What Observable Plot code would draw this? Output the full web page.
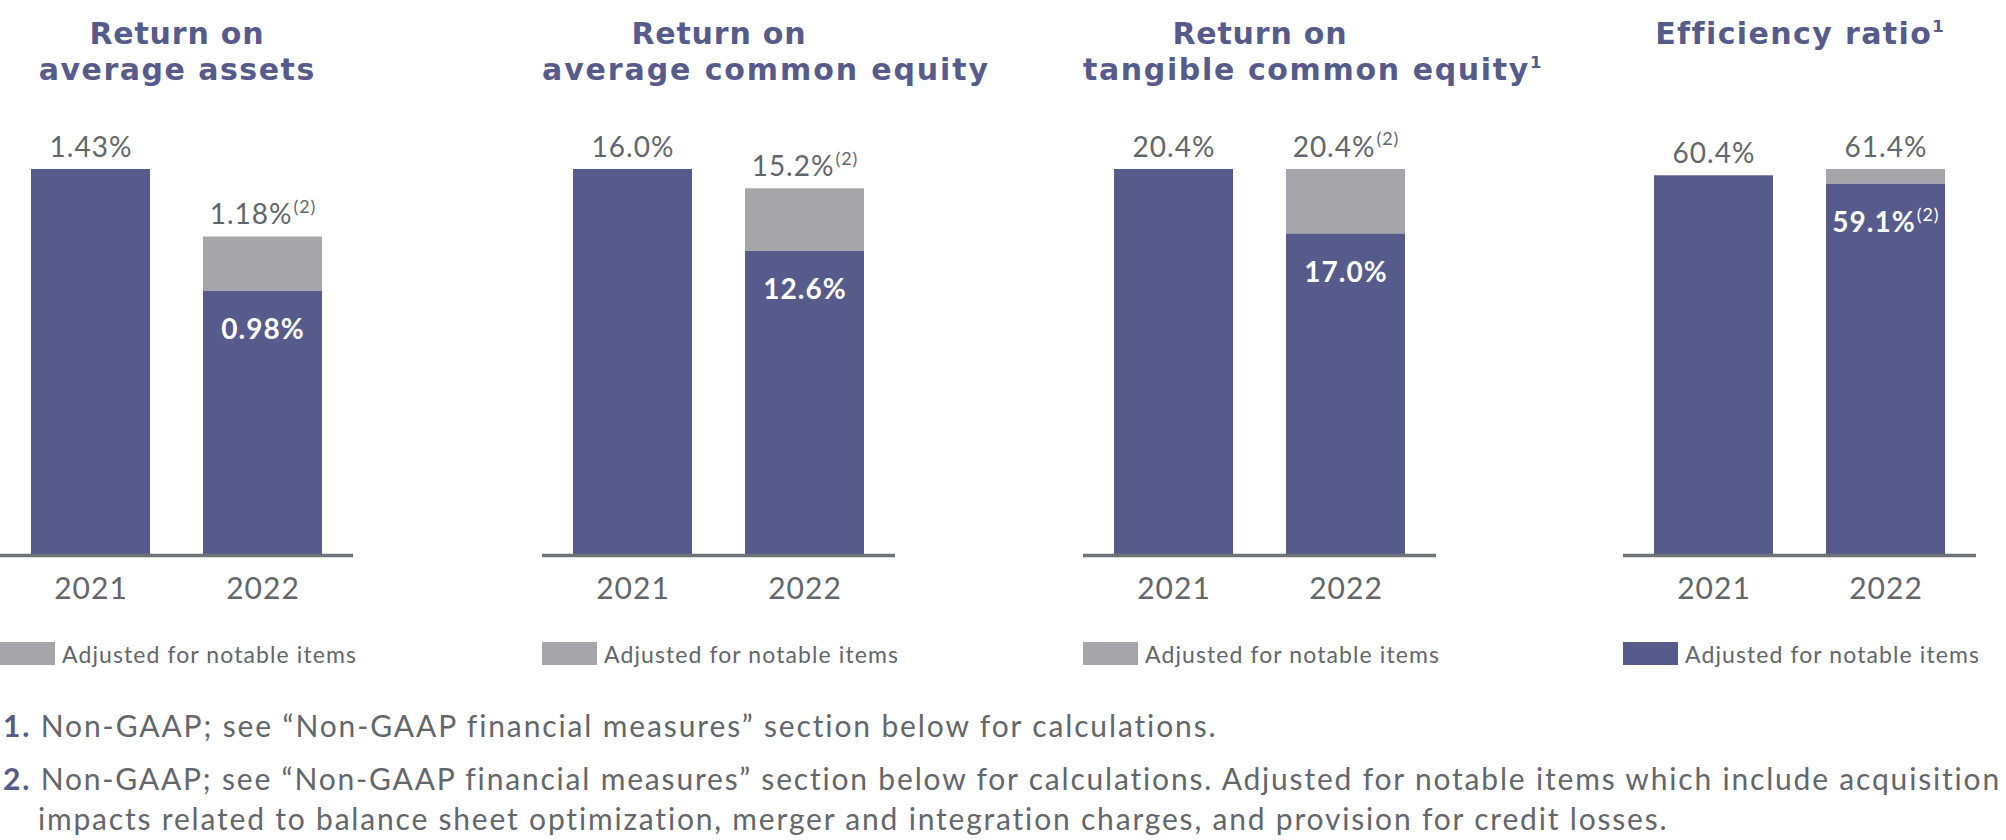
<!DOCTYPE html>
<html>
<head>
<meta charset="utf-8">
<script src="https://cdn.jsdelivr.net/npm/d3@7"></script>
<script src="https://cdn.jsdelivr.net/npm/@observablehq/plot@0.6"></script>
<style>
  html, body { margin: 0; padding: 0; background: #fff; }
  body { width: 2006px; height: 840px; overflow: hidden; font-family: Lato, "Noto Sans", sans-serif; }
  #root { position: relative; width: 2006px; height: 840px; }
  .title { position: absolute; width: 353px; text-align: center; color: #565b8b;
           font-family: "DejaVu Sans", Lato, sans-serif; font-weight: 700; font-size: 30px; line-height: 36px; white-space: nowrap; }
  .title span { display: inline-block; }
  .title sup { font-size: 0.55em; vertical-align: 0.72em; line-height: 0; }
  .chart { position: absolute; top: 110px; }
  .legend { position: absolute; top: 642px; height: 23px; display: flex; align-items: center; white-space: nowrap; }
  .legend .sw { width: 55px; height: 23px; margin-right: 7px; flex: none; }
  .legend .lt { font-size: 23px; color: #63666a; }
  .foot { position: absolute; left: 0; font-size: 30px; line-height: 30px; color: #63666a; white-space: nowrap; }
  .foot b { color: #565b8b; font-weight: 700; }
</style>
</head>
<body>
<div id="root"></div>
<script>
// ---- data ----
const panelTitles = [
  ["Return on", "average assets"],
  ["Return on", "average common equity"],
  ["Return on", "tangible common equity^1"],
  ["Efficiency ratio^1"]
];
const years = ["2021", "2022"];
const values2021 = [1.43, 16.0, 20.4, 60.4];
const values2022Lower = [0.98, 12.6, 17.0, 59.1];   // blue segment of 2022
const values2022Upper = [1.18, 15.2, 20.4, 61.4];   // top of grey segment of 2022
const labels2021 = ["1.43%", "16.0%", "20.4%", "60.4%"];
const labels2022Upper = ["1.18%^(2)", "15.2%^(2)", "20.4%^(2)", "61.4%"];
const labels2022Lower = ["0.98%", "12.6%", "17.0%", "59.1%^(2)"];
const legendLabel = "Adjusted for notable items";
const legendSeries = ["grey", "grey", "grey", "blue"];
const footnoteNumbers = ["1.", "2."];
const footnoteLines = [
  ["Non-GAAP; see “Non-GAAP financial measures” section below for calculations."],
  ["Non-GAAP; see “Non-GAAP financial measures” section below for calculations. Adjusted for notable items which include acquisition",
   "impacts related to balance sheet optimization, merger and integration charges, and provision for credit losses."]
];

// ---- layout / styles ----
const BLUE = "#565b8b", GREY = "#a6a5aa", TEXT = "#63666a", AXIS = "#6e7378";
const colorOf = {blue: BLUE, grey: GREY};
const panelLefts = [0, 542, 1083, 1623];
const PW = 353;
const titleWidths = [[175, 277], [175, 448], [175, 460], [287]];
const legendWidth = 295;
const footLefts = [[3], [3, 38]];
const footTops = [[710], [763, 803]];
const footWidths = [[1215], [1999, 1632]];

const root = document.getElementById("root");

function supHTML(s) {
  return s.replace(/\^(\S+)/g, "<sup>$1</sup>");
}

function fitWidth(el, target) {
  el.style.letterSpacing = "0px";
  const w = el.getBoundingClientRect().width;
  const n = el.textContent.length;
  const ls = (target - w) / n;
  el.style.letterSpacing = ls + "px";
  el.style.marginRight = (-ls) + "px";
}

function applySup(svg) {
  d3.select(svg).selectAll("text").each(function () {
    const t = this.textContent;
    if (t.includes("^") && this.children.length === 0) {
      const [main, sup] = t.split("^");
      this.textContent = main;
      const ts = document.createElementNS("http://www.w3.org/2000/svg", "tspan");
      ts.setAttribute("font-size", "0.64em");
      ts.setAttribute("font-weight", "400");
      ts.setAttribute("dy", "-0.62em");
      ts.setAttribute("dx", "1");
      ts.textContent = sup;
      this.appendChild(ts);
    }
  });
}

const fits = [];

panelTitles.forEach((lines, i) => {
  const left = panelLefts[i];
  // title (one block per line)
  lines.forEach((line, j) => {
    const t = document.createElement("div");
    t.className = "title";
    t.style.left = left + "px";
    t.style.top = (16 + j * 36) + "px";
    t.innerHTML = `<span>${supHTML(line)}</span>`;
    root.appendChild(t);
    fits.push([t.querySelector("span"), titleWidths[i][j]]);
  });

  const segments = [
    {year: years[0], lo: 0, hi: values2021[i], kind: "blue"},
    {year: years[1], lo: 0, hi: values2022Lower[i], kind: "blue"},
    {year: years[1], lo: values2022Lower[i], hi: values2022Upper[i], kind: "grey"}
  ];
  const topLabels = [
    {year: years[0], v: values2021[i], label: labels2021[i]},
    {year: years[1], v: values2022Upper[i], label: labels2022Upper[i]}
  ];
  const innerLabels = [
    {year: years[1], v: values2022Lower[i], label: labels2022Lower[i]}
  ];

  const chart = Plot.plot({
    width: PW,
    height: 505,
    marginTop: 59,
    marginBottom: 60,
    marginLeft: 0,
    marginRight: 0,
    style: {fontFamily: "Lato, 'Noto Sans', sans-serif", fontSize: "30px", color: TEXT, background: "transparent"},
    x: {domain: years, paddingInner: 0.31, paddingOuter: 0.18, label: null},
    y: {domain: [0, Math.max(values2021[i], values2022Upper[i])], axis: null},
    marks: [
      Plot.barY(segments, {x: "year", y1: "lo", y2: "hi", fill: d => colorOf[d.kind], inset: 0}),
      Plot.ruleY([0], {stroke: AXIS, strokeWidth: 3.5}),
      Plot.axisX({tickSize: 0, tickPadding: 22, fontSize: 30, fill: TEXT, label: null}),
      Plot.text(topLabels, {x: "year", y: "v", text: "label", lineAnchor: "bottom", dy: -13, fontSize: 28, fill: TEXT}),
      Plot.text(innerLabels, {x: "year", y: "v", text: "label", lineAnchor: "top", dy: 28, fontSize: 28, fontWeight: 700, fill: "white"})
    ]
  });
  applySup(chart);
  d3.select(chart).selectAll("g[aria-label='x-axis tick label'] text, g[aria-label='text'] text")
    .style("letter-spacing", "1px");
  const wrap = document.createElement("div");
  wrap.className = "chart";
  wrap.style.left = left + "px";
  wrap.appendChild(chart);
  root.appendChild(wrap);

  // legend
  const lg = document.createElement("div");
  lg.className = "legend";
  lg.style.left = left + "px";
  lg.innerHTML = `<div class="sw" style="background:${colorOf[legendSeries[i]]}"></div><div class="lt">${legendLabel}</div>`;
  root.appendChild(lg);
  fits.push([lg.querySelector(".lt"), legendWidth]);
});

// footnotes
footnoteLines.forEach((lines, k) => {
  lines.forEach((line, j) => {
    const f = document.createElement("div");
    f.className = "foot";
    f.style.top = footTops[k][j] + "px";
    f.style.left = footLefts[k][j] + "px";
    if (j === 0) {
      f.innerHTML = `<b>${footnoteNumbers[k]}</b> ${line}`;
    } else {
      f.textContent = line;
    }
    root.appendChild(f);
    fits.push([f, footWidths[k][j]]);
  });
});

fits.forEach(([el, w]) => fitWidth(el, w));
</script>
</body>
</html>
